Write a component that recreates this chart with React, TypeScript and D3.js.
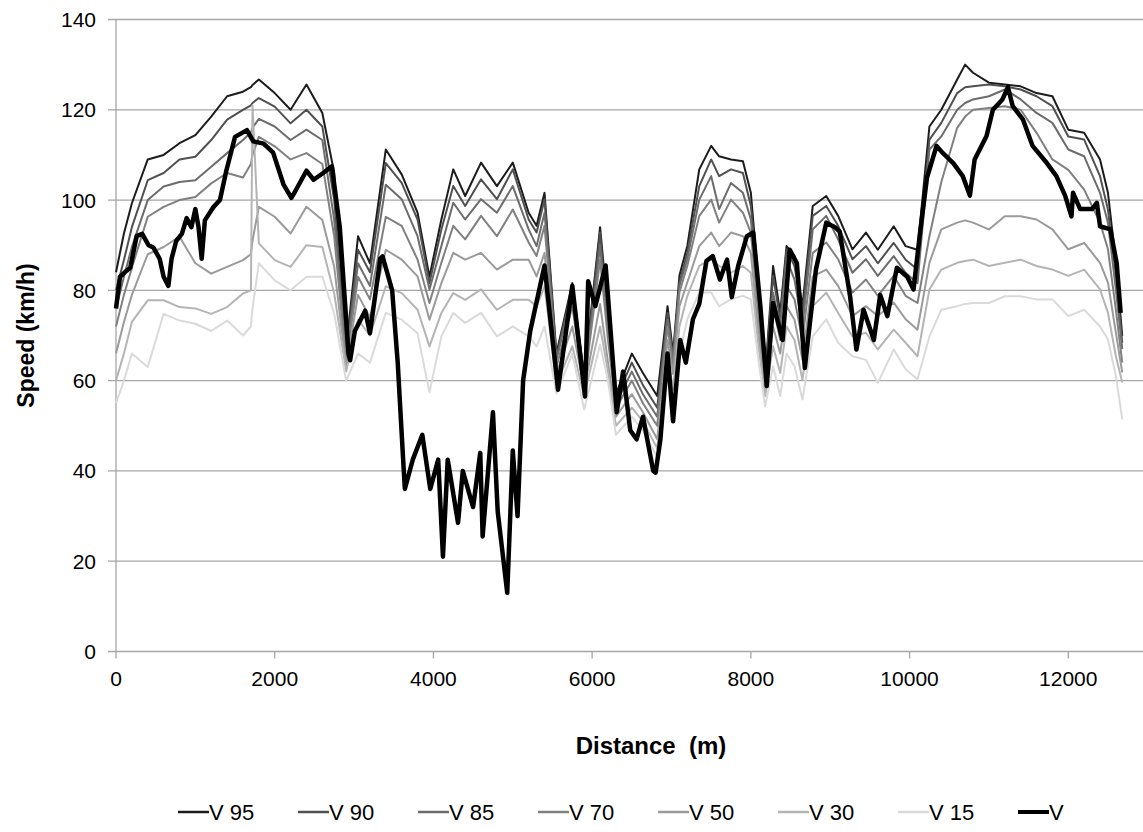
import * as d3 from "d3";
import React from "react";

// shared distance grid (m) for the percentile curves
const distance = [
  0, 100, 200, 400, 600, 800, 1000, 1200, 1400, 1600, 1700, 1720, 1800, 2000, 2200, 2400, 2600, 2750, 2900,
  3050, 3200, 3400, 3600, 3800, 3950, 4100, 4250, 4400, 4600, 4800, 5000, 5200, 5300, 5400, 5550, 5750, 5900,
  6100, 6200, 6300, 6500, 6640, 6820, 6950, 7020, 7100, 7200, 7350, 7500, 7600, 7750, 7900, 8000, 8100, 8180,
  8280, 8370, 8450, 8550, 8650, 8780, 8950, 9100, 9280, 9450, 9600, 9800, 9950, 10100, 10250, 10400, 10600,
  10700, 10800, 11000, 11200, 11400, 11600, 11800, 12000, 12200, 12400, 12500, 12600, 12680
];

const v95 = [
  84, 92.6, 99.3, 109, 110, 112.6, 114.4, 118.5, 123, 124, 125, 125.5, 126.7, 123.7, 120, 125.6, 119.3, 106, 67,
  92, 86, 111.2, 105.7, 97.2, 83, 95.7, 106.8, 100.9, 108.3, 103.1, 108.3, 97.2, 94.3, 101.6, 66, 81.6, 61,
  94, 75, 57, 66, 61.7, 56.6, 76.5, 66, 83.3, 89.9, 106.8, 112, 109.7, 109, 108.6, 101.6, 80.9, 61,
  85.4, 75, 89.8, 87.6, 76.5, 98.7, 100.9, 96.5, 89.1, 92.8, 89, 94.2, 89.8, 89, 116.3, 120, 126.7,
  130, 128.2, 126, 125.6, 125.2, 123.7, 123, 115.6, 114.9, 109, 101.6, 86.1, 69.9
];
const v90 = [
  80, 86.7, 94, 104.4, 106, 109, 109.6, 113.3, 117.8, 120, 121, 121.5, 122.6, 120.7, 117, 120, 116.3, 100, 66,
  89, 84, 108.2, 103.8, 95.7, 81.6, 93.5, 103.1, 98.7, 104.6, 100.2, 106.8, 95.7, 92.8, 100.2, 65.2, 80.9, 60.3,
  92.8, 73, 56, 64, 59, 54, 75, 65, 81.8, 88.4, 103.1, 109, 105.3, 106.8, 106, 98.7, 79.4, 60.3,
  83.2, 73.5, 89.1, 85.4, 75, 96.5, 98.7, 94.3, 86.9, 89.8, 86, 90.5, 86.8, 84.6, 113.4, 117.1, 123.7,
  125, 125.2, 125.6, 125.2, 124.5, 123, 120.8, 114.1, 113.4, 105.3, 97.9, 83.2, 68.4
];
const v85 = [
  76, 83, 89.6, 100, 103, 104, 104.4, 107.4, 110.4, 113.3, 115, 116, 118, 116.3, 113.3, 115.6, 113.3, 95.6, 65,
  86, 81, 103.4, 100.2, 92, 80.2, 89.8, 99.4, 95.7, 100.2, 97.2, 103.1, 93.5, 89.8, 97.2, 64.5, 79.4, 59.5,
  89.8, 71, 55, 62, 57, 52, 73.5, 64.5, 81, 87, 100.1, 105.3, 98, 103.8, 101.6, 95.7, 76.5, 59.5,
  79.5, 72, 86.9, 82.4, 72, 93.5, 96.5, 91.3, 83.9, 86.9, 83.2, 87.6, 83.9, 81.6, 111.2, 114.1, 120,
  121.5, 122.3, 123, 124.5, 122.3, 119.3, 117.1, 111.2, 109.7, 101.6, 95, 80.2, 67
];
const v70 = [
  72, 79, 85, 96.3, 98.5, 100, 100.7, 103.7, 106, 105, 108, 110, 114, 111.9, 109, 110.4, 108, 91.9, 64,
  83, 78, 96.3, 94.3, 86.8, 77.2, 86.1, 94.3, 91.3, 96.5, 92, 97.9, 90.6, 87.6, 94.3, 63, 76.4, 58.8,
  86.8, 69, 54, 60, 55, 50, 72, 63, 79.6, 85.5, 96.5, 100.1, 95, 100.1, 97.2, 92.8, 73.5, 58.8,
  76.5, 69, 81, 78, 69, 88.3, 90.6, 86.9, 79.5, 82.4, 78.8, 83.2, 78.8, 77.2, 92, 104, 116,
  118.5, 120, 120.4, 120.8, 120, 114.9, 109, 106.7, 102.3, 95, 89.1, 75.7, 64
];
const v50 = [
  66, 73, 79, 88, 89.6, 91.9, 86, 83.7, 85.2, 86.7, 88, 91, 98.5, 96.3, 92.6, 98.5, 95.6, 85.2, 63,
  79, 74, 89, 86.8, 83.1, 73.5, 81.6, 88.3, 86.8, 88.3, 84.6, 86.8, 86.8, 83.1, 88.3, 61.5, 72, 58,
  77, 64, 52, 57, 53, 47, 69, 61.5, 76.5, 81.8, 89.8, 92.8, 89.8, 92.8, 92, 88.3, 69.8, 58,
  72, 66, 76.5, 73.5, 64.6, 83.1, 84.6, 81, 74.3, 76.5, 74.3, 77.3, 73.6, 71.3, 86.1, 93.5, 95,
  95.5, 95, 93.5, 96.4, 96.4, 95.7, 93.5, 89.1, 90.5, 86.1, 81.7, 70.6, 61.8
];
const v30 = [
  60, 66, 73, 77.8, 77.8, 76.3, 76, 74.8, 76.3, 79.3, 80, 121, 90.4, 86.7, 85.2, 90, 89.6, 79.3, 62,
  73.5, 70, 80.9, 79.4, 75.7, 67.6, 75, 79.4, 77.9, 80.2, 75.7, 77.9, 77.9, 76.4, 80.9, 59.3, 67.6, 56.6,
  72, 62, 50, 54, 51, 45, 66, 58, 72, 78.8, 85.4, 86.9, 85.4, 83.9, 85.4, 83.9, 66.9, 56.6,
  67.6, 61.7, 72, 69, 60.2, 76.5, 79.5, 75, 69.8, 70.6, 66.9, 71.3, 68.4, 65.4, 80.2, 84.6, 86.1,
  86.5, 86.8, 85.4, 86.1, 86.8, 85.4, 84.6, 83.2, 84.6, 80.2, 75, 65.4, 59.6
];
const v15 = [
  55, 60, 66, 63, 74.8, 73.3, 72.6, 71, 73.3, 70, 72, 76, 86, 82.2, 80, 83, 83, 74.8, 60,
  66, 64, 75, 73.5, 70.5, 57.4, 69.8, 75, 72.8, 75, 69.8, 72, 69.8, 67.6, 72, 57.1, 66, 53.6,
  68, 60, 48, 52, 49, 43, 61.7, 53, 66, 73.6, 79.5, 79.5, 76.5, 78, 78.8, 78, 63.9, 54.3,
  63.2, 56.6, 66, 63.2, 55.8, 69.8, 73.6, 68.4, 65.4, 64.6, 59.5, 66.9, 62.5, 60.3, 69.8, 75.7, 76.5,
  77, 77.2, 77.2, 78.7, 78.7, 78, 78, 74.3, 75.7, 72, 69.1, 61, 51.4
];

// measured speed V, on its own distance points
const vDistance = [
  0, 50, 110, 180, 260, 330, 410, 470, 550, 600, 660, 700, 760, 830, 890, 950, 1000, 1040, 1080, 1120, 1230,
  1310, 1390, 1500, 1650, 1730, 1860, 1980, 2110, 2210, 2260, 2400, 2490, 2610, 2720, 2820, 2930, 2950, 3010,
  3140, 3200, 3330, 3360, 3480, 3550, 3620, 3640, 3740, 3860, 3960, 4060, 4120, 4180, 4310, 4370, 4500, 4590,
  4620, 4750, 4810, 4930, 5000, 5060, 5130, 5220, 5400, 5570, 5750, 5910, 5950, 6040, 6170, 6310, 6390, 6480,
  6560, 6640, 6770, 6800, 6860, 6950, 7020, 7110, 7180, 7270, 7350, 7440, 7520, 7610, 7700, 7760, 7840, 7950,
  8030, 8120, 8200, 8280, 8400, 8490, 8580, 8680, 8820, 8950, 9060, 9120, 9250, 9330, 9420, 9550, 9630, 9720,
  9840, 9970, 10050, 10130, 10220, 10340, 10420, 10550, 10670, 10760, 10820, 10970, 11050, 11170, 11240, 11300,
  11430, 11550, 11730, 11850, 11960, 12040, 12060, 12150, 12300, 12360, 12400, 12530, 12610, 12660
];
const vSpeed = [
  76, 83, 84, 85, 92, 92.5, 90, 89.5, 87, 83, 81, 87, 91, 92.5, 96, 94, 98, 94, 87, 95.5, 98.5,
  100, 106.5, 114, 115.5, 113, 112.5, 110.5, 103.5, 100.5, 102, 106.5, 104.5, 106, 107.5, 94, 66, 64.5, 71,
  75.5, 70.5, 87, 87.5, 80, 64, 42, 36, 42.5, 48, 36, 42.5, 21, 42.5, 28.5, 40, 32, 44,
  25.5, 53, 31, 13, 44.5, 30, 60, 71, 85.5, 58, 81, 56.5, 82, 76.5, 85.5, 53, 62, 49,
  47, 52, 40, 39.6, 47, 66, 51, 69, 64, 73.6, 77, 86.5, 87.6, 82.4, 86.8, 78.5, 85.4, 92,
  92.8, 76.5, 58.8, 77.2, 69, 89, 86, 62.8, 84.6, 95, 94, 93, 78.7, 66.9, 75.7, 69, 79, 74.3,
  85, 83, 80.2, 92.5, 105, 112, 110.4, 108.2, 105.3, 101, 109, 114.2, 120, 122.3, 125, 120.8,
  117.8, 112, 108.2, 105.3, 101, 96.4, 101.6, 98, 98, 99.4, 94.2, 93.5, 86, 75
];

const xTicks = [0, 2000, 4000, 6000, 8000, 10000, 12000];
const yTicks = [0, 20, 40, 60, 80, 100, 120, 140];

const series = [
  { name: "V 95", dist: distance, speed: v95, color: "#1c1c1c", width: 2 },
  { name: "V 90", dist: distance, speed: v90, color: "#505050", width: 2 },
  { name: "V 85", dist: distance, speed: v85, color: "#6c6c6c", width: 2 },
  { name: "V 70", dist: distance, speed: v70, color: "#808080", width: 2 },
  { name: "V 50", dist: distance, speed: v50, color: "#9a9a9a", width: 2 },
  { name: "V 30", dist: distance, speed: v30, color: "#b4b4b4", width: 2 },
  { name: "V 15", dist: distance, speed: v15, color: "#dadada", width: 2 },
  { name: "V", dist: vDistance, speed: vSpeed, color: "#000000", width: 4.5 }
];

export default function App() {
  const width = 1143;
  const height = 832;
  const font = "'Liberation Sans', Arial, sans-serif";

  const x = d3.scaleLinear().domain([0, 14000]).range([116, 1227]);
  const y = d3.scaleLinear().domain([0, 140]).range([651.5, 19.5]);

  const path = (s) =>
    d3
      .line<number>()
      .x((_, i) => x(s.dist[i]))
      .y((d) => y(d))(s.speed);

  // legend positions
  const lx = d3
    .scalePoint<string>()
    .domain(series.map((s) => s.name))
    .range([178, 1018]);

  return (
    <svg
      width={width}
      height={height}
      style={{ position: "absolute", left: 0, top: 0, background: "#fff" }}
      fontFamily={font}
    >
      {/* gridlines */}
      <g stroke="#a6a6a6" strokeWidth={1.3}>
        {yTicks.map((t) => (
          <line key={t} x1={108} x2={width} y1={y(t)} y2={y(t)} />
        ))}
        <line x1={x(0)} x2={x(0)} y1={y(140)} y2={y(0)} />
        {xTicks.map((t) => (
          <line key={t} x1={x(t)} x2={x(t)} y1={y(0)} y2={y(0) + 7} />
        ))}
      </g>

      {/* tick labels */}
      <g fontSize={21} fill="#000">
        {yTicks.map((t) => (
          <text key={t} x={96} y={y(t)} textAnchor="end" dominantBaseline="central">
            {t}
          </text>
        ))}
        {xTicks.map((t) => (
          <text key={t} x={x(t)} y={686} textAnchor="middle">
            {t}
          </text>
        ))}
      </g>

      {/* series */}
      <g fill="none" strokeLinejoin="round">
        {series.map((s) => (
          <path key={s.name} d={path(s)} stroke={s.color} strokeWidth={s.width} />
        ))}
      </g>

      {/* axis titles */}
      <text
        transform={`translate(34,${y(70)}) rotate(-90)`}
        textAnchor="middle"
        fontSize={23}
        fontWeight="bold"
      >
        Speed (km/h)
      </text>
      <text x={651} y={754} textAnchor="middle" fontSize={24} fontWeight="bold" style={{ whiteSpace: "pre" }}>
        {"Distance  (m)"}
      </text>

      {/* legend */}
      <g fontSize={22}>
        {series.map((s) => (
          <g key={s.name} transform={`translate(${lx(s.name)},812)`}>
            <line x1={0} x2={31} y1={0} y2={0} stroke={s.color} strokeWidth={s.name === "V" ? 4 : 2.5} />
            <text x={31} y={0} dominantBaseline="central">
              {s.name}
            </text>
          </g>
        ))}
      </g>
    </svg>
  );
}
